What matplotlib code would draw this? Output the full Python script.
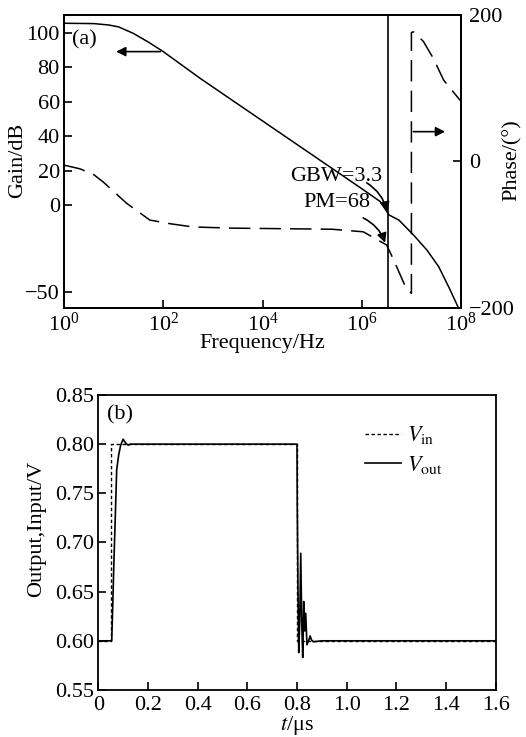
import numpy as np
import matplotlib
matplotlib.use('Agg')
import matplotlib.pyplot as plt

plt.rcParams['font.family'] = ['Liberation Serif', 'DejaVu Serif']
plt.rcParams['mathtext.fontset'] = 'stix'
plt.rcParams['font.size'] = 16

# (a) Bode plot, x values are log10(frequency / Hz)
gain_logf = [0, 0.6, 0.9, 1.1, 1.4, 1.7, 2.0, 2.74, 4.0, 5.0, 6.0, 6.37, 6.55, 6.75, 7.04, 7.31, 7.55, 7.78, 7.95]
gain_db = [105.4, 105.2, 104.4, 103.3, 99.5, 94.5, 89.0, 73.6, 48.9, 29.3, 9.7, 2.3, -5.5, -8.5, -17.0, -25.7, -35.4, -48.8, -59.4]

phase_logf = [0, 0.32, 0.6, 0.79, 1.26, 1.73, 2.14, 2.6, 3.4, 5.4, 6.03, 6.5, 6.64, 6.88, 7.0,
              7.0, 7.04, 7.24, 7.44, 7.65, 8.0]
phase_deg = [-5, -10, -18, -28, -57, -80, -85, -89.4, -91, -92.5, -96, -114, -134, -171, -180,
             176, 177, 164, 141, 111, 82]

GBW_HZ = 3.3e6
gain_ticks = [100, 80, 60, 40, 20, 0, -50]
phase_ticks = [200, 0, -200]
freq_ticks = [1e0, 1e2, 1e4, 1e6, 1e8]

# (b) step response
t_in = [0, 0.05, 0.05, 0.8, 0.8, 1.6]
v_in = [0.6, 0.6, 0.8, 0.8, 0.6, 0.6]

t_out = [0, 0.05, 0.054, 0.058, 0.063, 0.068, 0.074, 0.082, 0.09, 0.1, 0.11, 0.12, 0.13,
         0.8, 0.801, 0.804, 0.807, 0.811, 0.815, 0.819, 0.823, 0.827, 0.831, 0.835,
         0.84, 0.848, 0.853, 0.858, 0.866, 0.9, 1.6]
v_out = [0.6, 0.6, 0.6, 0.635, 0.682, 0.723, 0.774, 0.789, 0.799, 0.805, 0.801, 0.799, 0.8,
         0.8, 0.738, 0.65, 0.588, 0.62, 0.689, 0.62, 0.583, 0.64, 0.61, 0.628,
         0.596, 0.601, 0.605, 0.601, 0.599, 0.6, 0.6]

time_ticks = [0, 0.2, 0.4, 0.6, 0.8, 1.0, 1.2, 1.4, 1.6]
time_labels = ['0', '0.2', '0.4', '0.6', '0.8', '1.0', '1.2', '1.4', '1.6']
volt_ticks = [0.55, 0.60, 0.65, 0.70, 0.75, 0.80, 0.85]

fig = plt.figure(figsize=(5.26, 7.37), dpi=100)

# ---------- panel (a) ----------
ax1 = fig.add_axes([0.1217, 0.5821, 0.7548, 0.3976])
ax2 = ax1.twinx()

ax1.plot(np.power(10.0, gain_logf), gain_db, color='k', lw=1.1)
ax2.plot(np.power(10.0, phase_logf), phase_deg, color='k', lw=1.1, linestyle=(0, (14, 6)))
ax1.axvline(GBW_HZ, color='k', lw=1.2)

ax1.set_xscale('log')
ax1.set_xlim(1, 1e8)
ax1.set_xticks(freq_ticks)
ax1.minorticks_off()
ax1.set_ylim(-59.3, 110.2)
ax1.set_yticks(gain_ticks)
ax1.set_yticklabels([str(v).replace('-', '\u2212') for v in gain_ticks])
ax2.set_ylim(-200, 200)
ax2.set_yticks(phase_ticks)
ax2.set_yticklabels([str(v).replace('-', '\u2212') for v in phase_ticks])

ax1.set_xlabel('Frequency/Hz', va='top')
ax1.xaxis.set_label_coords(0.5, -0.09)
ax1.set_ylabel('Gain/dB', va='center')
ax1.yaxis.set_label_coords(-0.116, 0.505)
ax2.set_ylabel('Phase/(°)', va='center')
ax2.yaxis.set_label_coords(1.128, 0.505)

for a in (ax1, ax2):
    a.tick_params(direction='in', length=6, width=1.2, pad=3)
    for s in a.spines.values():
        s.set_linewidth(1.3)
ax1.tick_params(axis='x', pad=3)
ax2.tick_params(axis='y', pad=6)

ax1.text(0.019, 0.915, '(a)', transform=ax1.transAxes, va='center', ha='left')

arrow = dict(arrowstyle='-|>', color='k', lw=1.2, mutation_scale=14, shrinkA=0, shrinkB=0)
ax1.annotate('', xy=(11.2, 89), xytext=(87, 89), arrowprops=arrow)
ax2.annotate('', xy=(10 ** 7.68, 40.7), xytext=(10 ** 7.04, 40.7), arrowprops=arrow)

ax1.text(10 ** 4.56, 16.7, 'GBW=3.3', va='center', ha='left')
ax1.annotate('', xy=(10 ** 6.51, -3.5), xytext=(10 ** 6.1, 13.1),
             arrowprops=dict(arrow, connectionstyle='arc3,rad=-0.2'))
ax1.text(10 ** 4.82, 1.5, 'PM=68', va='center', ha='left')
ax1.annotate('', xy=(10 ** 6.47, -21.6), xytext=(10 ** 6.03, -7.2),
             arrowprops=dict(arrow, connectionstyle='arc3,rad=-0.2'))

# ---------- panel (b) ----------
ax3 = fig.add_axes([0.1869, 0.0638, 0.7555, 0.4003])
ax3.plot(t_in, v_in, color='k', lw=1.0, linestyle=(0, (2.5, 1.8)), label=r'$V_{\rm in}$')
ax3.plot(t_out, v_out, color='k', lw=1.2, label=r'$V_{\rm out}$')

ax3.set_xlim(0, 1.6)
ax3.set_ylim(0.55, 0.85)
ax3.set_xticks(time_ticks)
ax3.set_xticklabels(time_labels)
ax3.set_yticks(volt_ticks)
ax3.set_yticklabels(['%.2f' % v for v in volt_ticks])
ax3.tick_params(direction='in', length=6, width=1.2, pad=3)
ax3.tick_params(axis='x', pad=4)
for s in ax3.spines.values():
    s.set_linewidth(1.3)

ax3.set_xlabel(r'$t$/μs', va='top')
ax3.xaxis.set_label_coords(0.5, -0.083)
ax3.set_ylabel('Output,Input/V', va='center')
ax3.yaxis.set_label_coords(-0.154, 0.546)
ax3.text(0.022, 0.932, '(b)', transform=ax3.transAxes, va='center', ha='left')

ax3.legend(loc='upper left', bbox_to_anchor=(0.671, 0.9), frameon=False,
           handlelength=1.6, handletextpad=0.3, labelspacing=0.35,
           borderpad=0, borderaxespad=0)

fig.savefig('out.png', dpi=100)
